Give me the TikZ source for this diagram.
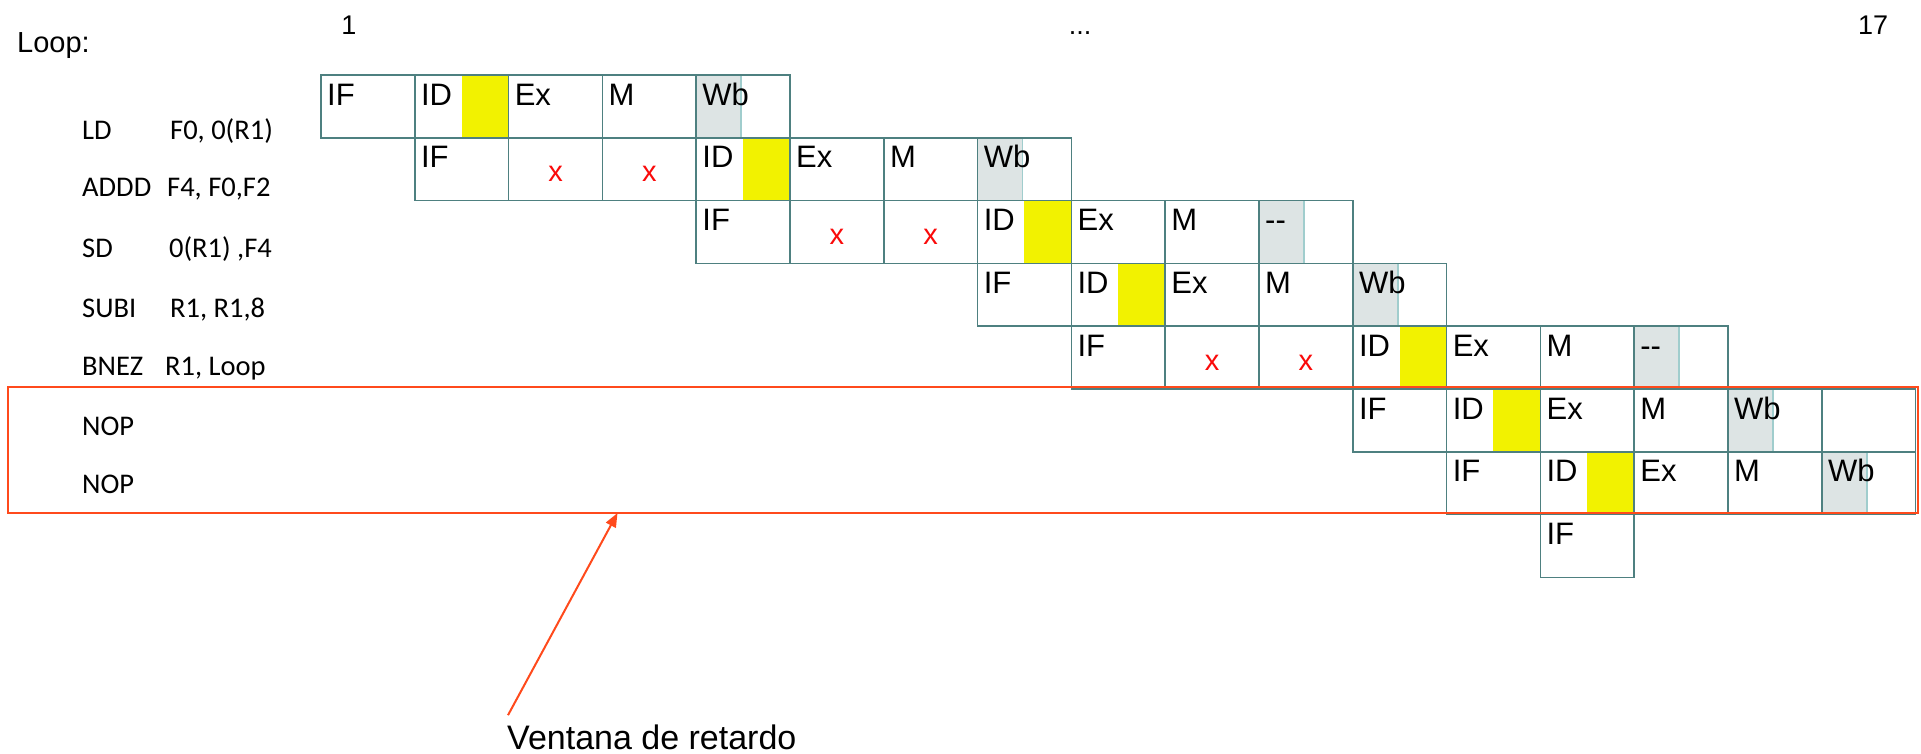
\documentclass[tikz,border=0pt]{standalone}
\usepackage{fontspec}
\setmainfont{Liberation Sans}
\newfontfamily\calibrifont{Carlito}
\usetikzlibrary{arrows.meta,calc}
\definecolor{cellline}{RGB}{78,128,128}
\definecolor{idyellow}{RGB}{242,242,0}
\definecolor{wbgray}{RGB}{221,228,228}
\definecolor{wbline}{RGB}{160,205,205}
\definecolor{winred}{RGB}{255,74,28}
\definecolor{xred}{RGB}{250,10,10}
\tikzset{
  stagebox/.style={draw=cellline, line width=1.5pt, fill=white, minimum width=93.8pt, minimum height=62.8pt, inner sep=0pt, outer sep=0pt, anchor=north west},
  stagetext/.style={font=\fontsize{31}{36}\selectfont, anchor=base west, inner sep=0pt},
  stalltext/.style={font=\fontsize{29}{34}\selectfont, text=xred, anchor=base, inner sep=0pt},
  idcell/.style={path picture={\fill[idyellow] ([xshift=-47pt]path picture bounding box.north east) rectangle (path picture bounding box.south east);}},
  wbcell/.style={path picture={\fill[wbgray] (path picture bounding box.north west) rectangle ([xshift=45pt]path picture bounding box.south west);
      \draw[wbline, line width=1.5pt] ([xshift=45pt]path picture bounding box.north west) -- ([xshift=45pt]path picture bounding box.south west);}},
  plaincell/.style={},
  instr/.style={font=\calibrifont\fontsize{28.5}{33}\selectfont, anchor=base west, inner sep=0pt},
  header/.style={font=\fontsize{27}{32}\selectfont, anchor=base, inner sep=0pt},
  window/.style={draw=winred, line width=2pt, minimum width=1910pt, minimum height=126pt, anchor=north west, inner sep=0pt, outer sep=0pt},
  winarrow/.style={draw=winred, line width=2pt, -{Triangle[length=14pt,width=11pt]}},
  caption/.style={font=\fontsize{34}{40}\selectfont, anchor=base west, inner sep=0pt}
}
\newcommand{\pipecell}[5]{%
  \pgfmathsetmacro{\cellx}{321+(#2-1)*93.8}%
  \pgfmathsetmacro{\celly}{75+(#3-1)*62.8}%
  \node[stagebox,#5] (#1) at (\cellx,\celly) {};%
  \node[stagetext] (#1-t) at ([xshift=6pt,yshift=-30pt]#1.north west) {#4};%
}
\newcommand{\stallcell}[3]{%
  \pgfmathsetmacro{\cellx}{321+(#2-1)*93.8}%
  \pgfmathsetmacro{\celly}{75+(#3-1)*62.8}%
  \node[stagebox] (#1) at (\cellx,\celly) {};%
  \node[stalltext] (#1-t) at ([yshift=-44pt]#1.north) {x};%
}
\begin{document}
\begin{tikzpicture}[x=1pt,y=-1pt]
\useasboundingbox (0,0) rectangle (1921,753);

% header
\node[font=\fontsize{29}{34}\selectfont, anchor=base west, inner sep=0pt] (loop) at (17,52) {Loop:};
\node[header] (h1) at (349,34) {1};
\node[header] (hdots) at (1080,34) {...};
\node[header] (h17) at (1873,34) {17};

% instructions
\node[instr] (i1) at (82,139) {\makebox[88pt][l]{LD}F0, 0(R1)};
\node[instr] (i2) at (82,196) {\makebox[85pt][l]{ADDD}F4, F0,F2};
\node[instr] (i3) at (82,257) {\makebox[87pt][l]{SD}0(R1) ,F4};
\node[instr] (i4) at (82,317) {\makebox[88pt][l]{SUBI}R1, R1,8};
\node[instr] (i5) at (82,375) {\makebox[83pt][l]{BNEZ}R1, Loop};
\node[instr] (i6) at (82,435) {NOP};
\node[instr] (i7) at (82,493) {NOP};

% row 1
\pipecell{a1}{1}{1}{IF}{plaincell}
\pipecell{a2}{2}{1}{ID}{idcell}
\pipecell{a3}{3}{1}{Ex}{plaincell}
\pipecell{a4}{4}{1}{M}{plaincell}
\pipecell{a5}{5}{1}{Wb}{wbcell}
% row 2
\pipecell{b2}{2}{2}{IF}{plaincell}
\stallcell{b3}{3}{2}
\stallcell{b4}{4}{2}
\pipecell{b5}{5}{2}{ID}{idcell}
\pipecell{b6}{6}{2}{Ex}{plaincell}
\pipecell{b7}{7}{2}{M}{plaincell}
\pipecell{b8}{8}{2}{Wb}{wbcell}
% row 3
\pipecell{c5}{5}{3}{IF}{plaincell}
\stallcell{c6}{6}{3}
\stallcell{c7}{7}{3}
\pipecell{c8}{8}{3}{ID}{idcell}
\pipecell{c9}{9}{3}{Ex}{plaincell}
\pipecell{c10}{10}{3}{M}{plaincell}
\pipecell{c11}{11}{3}{-{}-}{wbcell}
% row 4
\pipecell{d8}{8}{4}{IF}{plaincell}
\pipecell{d9}{9}{4}{ID}{idcell}
\pipecell{d10}{10}{4}{Ex}{plaincell}
\pipecell{d11}{11}{4}{M}{plaincell}
\pipecell{d12}{12}{4}{Wb}{wbcell}
% row 5
\pipecell{e9}{9}{5}{IF}{plaincell}
\stallcell{e10}{10}{5}
\stallcell{e11}{11}{5}
\pipecell{e12}{12}{5}{ID}{idcell}
\pipecell{e13}{13}{5}{Ex}{plaincell}
\pipecell{e14}{14}{5}{M}{plaincell}
\pipecell{e15}{15}{5}{-{}-}{wbcell}
% row 6
\pipecell{f12}{12}{6}{IF}{plaincell}
\pipecell{f13}{13}{6}{ID}{idcell}
\pipecell{f14}{14}{6}{Ex}{plaincell}
\pipecell{f15}{15}{6}{M}{plaincell}
\pipecell{f16}{16}{6}{Wb}{wbcell}
\pipecell{f17}{17}{6}{}{plaincell}
% row 7
\pipecell{g13}{13}{7}{IF}{plaincell}
\pipecell{g14}{14}{7}{ID}{idcell}
\pipecell{g15}{15}{7}{Ex}{plaincell}
\pipecell{g16}{16}{7}{M}{plaincell}
\pipecell{g17}{17}{7}{Wb}{wbcell}
% row 8
\pipecell{h14}{14}{8}{IF}{plaincell}

% delay window
\node[window] (window) at (7.5,387) {};
\node[caption] (ventana) at (507,749) {Ventana de retardo};
\coordinate (wtip) at ([xshift=610pt]window.south west);
\draw[winarrow] ([shift={(1pt,9pt)}]ventana.north west) -- (wtip);
\end{tikzpicture}
\end{document}
